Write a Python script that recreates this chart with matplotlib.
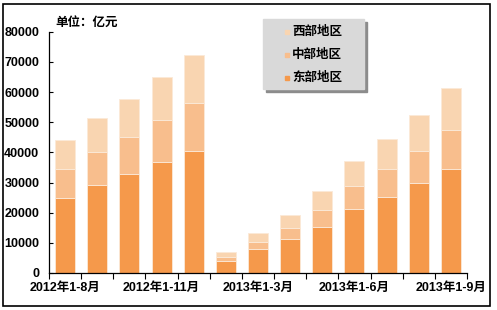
import matplotlib.pyplot as plt
import matplotlib.patches as mpatches
import numpy as np

plt.rcParams['font.family'] = ['Liberation Sans', 'Noto Sans CJK SC', 'DejaVu Sans']

periods = ["2012年1-8月", "2012年1-9月", "2012年1-10月", "2012年1-11月", "2012年1-12月",
           "2013年1-2月", "2013年1-3月", "2013年1-4月", "2013年1-5月", "2013年1-6月",
           "2013年1-7月", "2013年1-8月", "2013年1-9月"]
# cumulative tops
east = [25000, 29200, 32900, 36900, 40400, 4100, 7800, 11200, 15300, 21100, 25300, 29700, 34500]
mid_top = [34400, 40200, 45000, 50700, 56300, 5200, 10400, 15000, 20900, 28900, 34400, 40400, 47400]
west_top = [44000, 51300, 57800, 64900, 72200, 6900, 13200, 19200, 27200, 37100, 44400, 52300, 61300]
legend_labels = ['西部地区', '中部地区', '东部地区']

east = np.array(east)
mid = np.array(mid_top) - east
west = np.array(west_top) - np.array(mid_top)

c_east = '#F5994B'
c_mid = '#F8BE8D'
c_west = '#F9D5B1'

W, H = 497, 310
fig = plt.figure(figsize=(W / 100, H / 100), dpi=100)
ax = fig.add_axes([0.0986, 0.1194, 0.8410, 0.7783])

x = np.arange(len(periods))
w = 0.62
ax.bar(x, east, w, color=c_east, edgecolor='#FBE9D8', linewidth=0.6)
ax.bar(x, mid, w, bottom=east, color=c_mid, edgecolor='#FBE9D8', linewidth=0.6)
ax.bar(x, west, w, bottom=east + mid, color=c_west, edgecolor='#FBE9D8', linewidth=0.6)

ax.set_xlim(-0.5, len(periods) - 0.5)
ax.set_ylim(0, 80000)
ax.set_yticks(np.arange(0, 80001, 10000))
ax.tick_params(axis='y', direction='in', length=3, width=0.8, pad=7, labelsize=9)
for t in ax.get_yticklabels():
    t.set_fontweight('bold')

ax.set_xticks(np.arange(-0.5, len(periods), 1))
ax.set_xticklabels([])
ax.tick_params(axis='x', direction='out', length=4, width=0.8)
for i in range(0, len(periods), 3):
    ax.text(i, -3000, periods[i], ha='center', va='top', fontsize=9, fontweight='bold')

for s in ['top', 'right']:
    ax.spines[s].set_visible(False)
ax.spines['left'].set_linewidth(0.9)
ax.spines['bottom'].set_linewidth(0.9)

fig.text(0.111, 0.928, '单位：亿元', fontsize=9, fontweight='bold', ha='left', va='center')

# legend box drawn by hand (pixel coords from top-left)
def fxy(px, py):
    return px / W, 1 - py / H

x0, y0, x1, y1 = 263, 19, 364, 89
sx, sy = fxy(x0 + 3, y1 + 3)
fig.patches.append(mpatches.Rectangle((sx, sy), (x1 - x0) / W, (y1 - y0) / H,
                                      transform=fig.transFigure, color='#8C8C8C', zorder=5))
bx, by = fxy(x0, y1)
fig.patches.append(mpatches.Rectangle((bx, by), (x1 - x0) / W, (y1 - y0) / H,
                                      transform=fig.transFigure, color='#D9D9D9', zorder=6))
for lab, c, py in zip(legend_labels, [c_west, c_mid, c_east], [32, 55, 78]):
    mx, my = fxy(287, py)
    fig.patches.append(mpatches.Rectangle((mx - 2 / W, my - 2 / H), 4 / W, 4 / H,
                                          transform=fig.transFigure, color=c, zorder=7))
    tx, ty = fxy(292, py)
    fig.text(tx, ty, lab, fontsize=9, fontweight='bold', ha='left', va='center', zorder=8)

fig.patches.append(mpatches.Rectangle((0.007, 0.014), 0.979, 0.972, transform=fig.transFigure,
                                      fill=False, edgecolor='black', linewidth=1.2))

fig.savefig('out.png', dpi=100)
